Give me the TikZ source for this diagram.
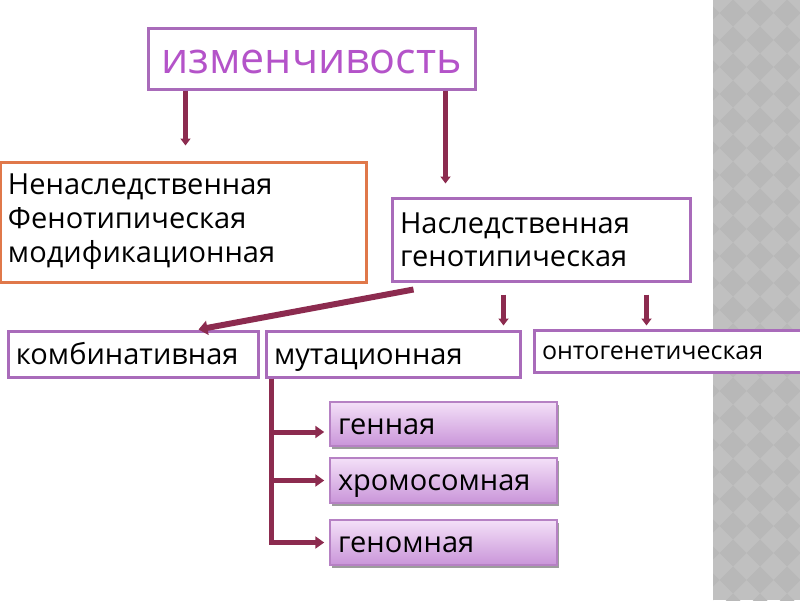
\documentclass[tikz,border=0pt]{standalone}
\usepackage{fontspec}
\setmainfont{Open Sans}
\usetikzlibrary{arrows.meta,positioning,calc,shadows}
\definecolor{varpurple}{HTML}{A96BBA}
\definecolor{vartitle}{HTML}{B453C9}
\definecolor{varorange}{HTML}{E0784A}
\definecolor{varmaroon}{HTML}{8C2B4F}
\definecolor{varlilac}{HTML}{C995D9}
\definecolor{varpale}{HTML}{F4E0F8}
\definecolor{bandgray}{HTML}{C0C0C0}
\definecolor{banddark}{HTML}{B8B8B8}

\begin{document}
\begin{tikzpicture}[x=1pt, y=-1pt,
  box/.style={draw=varpurple, line width=3pt, fill=white, align=left,
    inner xsep=8pt, inner ysep=0pt, font=\fontsize{29}{33}\selectfont},
  one/.style={text height=24pt, text depth=4pt},
  size/.style 2 args={minimum width=#1, minimum height=#2, text width=#1-16pt},
  title/.style={box, align=center, text=vartitle, text height=35pt, text depth=6pt,
    font=\fontsize{43}{50}\selectfont},
  sub/.style={box, one, draw=varpurple!85, line width=1.5pt,
    top color=varpale, bottom color=varlilac,
    drop shadow={shadow xshift=1.5pt, shadow yshift=-2.5pt, fill=black!70, opacity=.55}},
  link/.style={draw=varmaroon, line width=5pt, -{Triangle[width=10pt,length=7pt]}},
]
\clip (0,0) rectangle (800,600);
% --- side band ---
\fill[bandgray] (713,0) rectangle (800,600);
\begin{scope}
  \clip (713,0) rectangle (800,600);
  \foreach \i in {0,...,4}
    \foreach \j in {-1,...,22}
      \fill[banddark] (706+27*\i-13.5, 13+27*\j) -- ++(13.5,-13.5)
        -- ++(13.5,13.5) -- ++(-13.5,13.5) -- cycle;
\end{scope}
% --- boxes ---
\node[title, size={327pt}{61pt}] (var) at (311.5,58.5) {изменчивость};
\node[box, draw=varorange, size={366pt}{120pt}, font=\fontsize{29}{34}\selectfont]
  (nonher) at (183,222) {Ненаследственная\\Фенотипическая\\модификационная};
\node[box, size={298pt}{83pt}] (her) at (541,239.5)
  {Наследственная\\генотипическая};
\node[box, one, size={250pt}{46pt}] (comb) at (133,354) {комбинативная};
\node[box, one, size={254pt}{46pt}] (mut) at (393,354) {мутационная};
\node[box, size={272pt}{42pt}, text height=20pt, text depth=4pt,
  font=\fontsize{25}{30}\selectfont] (onto) at (670,351) {онтогенетическая};
\node[sub, size={227pt}{44pt}] (gen) at (443.5,424) {генная};
\node[sub, size={227pt}{45pt}] (chrom) at (443.5,480.5) {хромосомная};
\node[sub, size={227pt}{45pt}] (genom) at (443.5,542.5) {геномная};
% --- top level ---
\draw[link, shorten >=15pt] ([xshift=39pt]var.south west)
  -- ([xshift=39pt]var.south west |- nonher.north);
\draw[link, shorten >=13pt] ([xshift=299pt]var.south west)
  -- ([xshift=299pt]var.south west |- her.north);
% --- hereditary ---
\draw[link, line width=6pt, -{Triangle[width=14pt,length=9pt]}]
  ([xshift=23pt,yshift=-7pt]her.south west) -- ([xshift=192pt]comb.north west);
\draw[link, shorten >=4pt] ([xshift=113pt,yshift=-12pt]her.south west)
  -- ([xshift=113pt]her.south west |- mut.north);
\draw[link, shorten >=3pt] ([xshift=256pt,yshift=-12pt]her.south west)
  -- ([xshift=256pt]her.south west |- onto.north);
% --- mutations ---
\coordinate (trunk) at ([xshift=7pt]mut.south west);
\draw[link, shorten >=5pt, -{Triangle[width=12pt,length=9pt]}] (trunk) |- ([yshift=-8pt]gen.west);
\draw[link, shorten >=5pt, -{Triangle[width=12pt,length=9pt]}] (trunk) |- (chrom.west);
\draw[link, shorten >=5pt, -{Triangle[width=12pt,length=9pt]}] (trunk) |- (genom.west);
\end{tikzpicture}
\end{document}
